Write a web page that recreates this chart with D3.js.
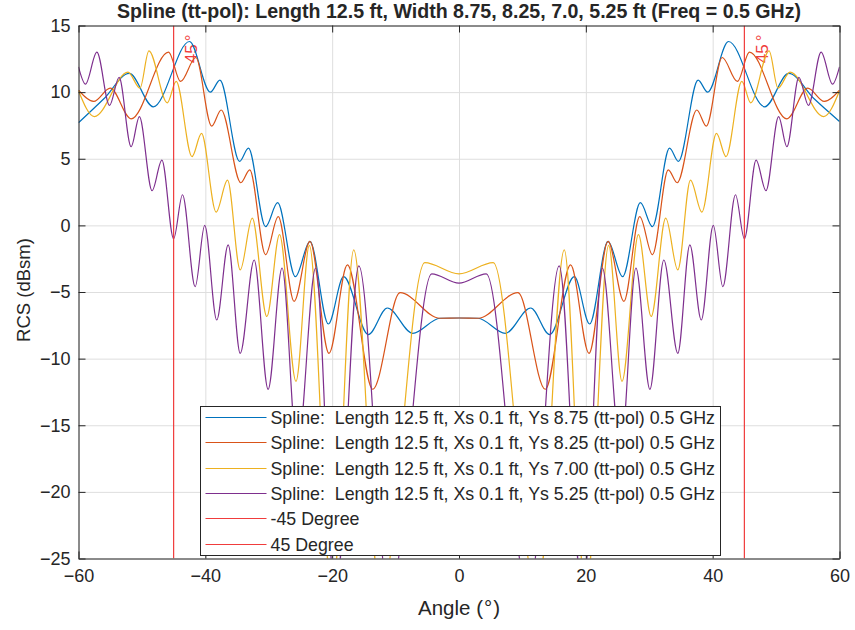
<!DOCTYPE html>
<html>
<head>
<meta charset="utf-8">
<script src="https://cdn.jsdelivr.net/npm/d3@7"></script>
<style>
  body { margin: 0; background: #fff; }
  svg text { font-family: "Liberation Sans", Arial, Helvetica, sans-serif; fill: #262626; }
</style>
</head>
<body>
<svg id="chart" width="855" height="630"></svg>
<script>
// ---- Chart text ----
const titleText = "Spline (tt-pol): Length 12.5 ft, Width 8.75, 8.25, 7.0, 5.25 ft (Freq = 0.5 GHz)";
const xLabelParts = ["Angle (", "\u00B0", ")"];
const yLabel = "RCS (dBsm)";
const xTicks = [-60, -40, -20, 0, 20, 40, 60];
const yTicks = [-25, -20, -15, -10, -5, 0, 5, 10, 15];

// ---- Series: local peaks and nulls of each RCS pattern (angle in deg, RCS in dBsm) ----
const ys875Angle = [-60, -56, -52, -48.2, -42.5, -39.2, -37.7, -34.6, -33.2, -30.5, -28.6, -25.8, -23.5, -20.6, -18.2, -14.3, -11.3, -7.3, -3, 0,
                    3, 7.3, 11.3, 14.3, 18.2, 20.6, 23.5, 25.8, 28.6, 30.5, 33.2, 34.6, 37.7, 39.2, 42.5, 48.2, 52, 56, 60];
const ys875Rcs   = [7.7, 9.5, 11.4, 8.9, 13.8, 10.0, 10.9, 4.8, 5.8, -0.1, 1.7, -3.85, -1.2, -7.4, -3.85, -8.2, -6.2, -8.1, -6.97, -6.95,
                    -6.97, -8.1, -6.2, -8.2, -3.85, -7.4, -1.2, -3.85, 1.7, -0.1, 5.8, 4.8, 10.9, 10.0, 13.8, 8.9, 11.4, 9.5, 7.8];

const ys825Angle = [-60, -57.6, -55, -51.7, -45.8, -43.9, -41.5, -39, -37.5, -34.4, -33, -30.5, -28.5, -26, -23.5, -20.5, -17.6, -13.6, -9.3, -3, 0,
                    3, 9.3, 13.6, 17.6, 20.5, 23.5, 26, 28.5, 30.5, 33, 34.4, 37.5, 39, 41.5, 43.9, 45.8, 51.7, 55, 57.6, 60];
const ys825Rcs   = [10.15, 9.3, 10.3, 8.0, 13.0, 10.8, 12.6, 7.45, 8.66, 3.2, 4.16, -2.2, 0.66, -5.7, -1.2, -9.6, -2.97, -12.3, -5.05, -6.97, -6.95,
                    -6.97, -5.05, -12.3, -2.97, -9.6, -1.2, -5.7, 0.66, -2.2, 4.16, 3.2, 8.66, 7.45, 12.6, 10.8, 13.0, 8.0, 10.3, 9.3, 10.15];

const ys700Angle = [-60, -57.5, -52.2, -50.3, -48.9, -46, -44.6, -42.1, -40.6, -38.3, -36.5, -34.5, -32.6, -30.3, -28.3, -25.7, -23.6, -20, -16.6, -12.4, -5.4, 0,
                    5.4, 12.4, 16.6, 20, 23.6, 25.7, 28.3, 30.3, 32.6, 34.5, 36.5, 38.3, 40.6, 42.1, 44.6, 46, 48.9, 50.3, 52.2, 57.5, 60];
const ys700Rcs   = [10.1, 8.16, 11.5, 10.3, 13.1, 9.2, 10.8, 5.16, 6.9, 1.0, 3.4, -3.34, 0.54, -6.84, -0.7, -11.7, -1.5, -28, -1.84, -28, -2.8, -3.64,
                    -2.8, -28, -1.84, -28, -1.5, -11.7, -0.7, -6.84, 0.54, -3.34, 3.4, 1.0, 6.9, 5.16, 10.8, 9.2, 13.1, 10.3, 11.5, 8.16, 10.1];

const ys525Angle = [-60, -58.9, -57.1, -55.1, -53.6, -51.7, -50.4, -48.4, -46.85, -45, -43.6, -41.6, -40.1, -38.2, -36.4, -34.5, -32.3, -30.1, -27.9, -25.5, -22.6, -19.5, -15.8, -11, -4.3, 0,
                    4.3, 11, 15.8, 19.5, 22.6, 25.5, 27.9, 30.1, 32.3, 34.5, 36.4, 38.2, 40.1, 41.6, 43.6, 45, 46.85, 48.4, 50.4, 51.7, 53.6, 55.1, 57.1, 58.9, 60];
const ys525Rcs   = [11.9, 10.6, 13.0, 9.0, 11.1, 5.9, 8.16, 2.6, 4.9, -1.0, 2.3, -4.6, 0.0, -7.1, -1.47, -9.6, -2.6, -12.3, -3.2, -17, -3.2, -28, -3.04, -28, -3.64, -4.34,
                    -3.64, -28, -3.04, -28, -3.2, -17, -3.2, -12.3, -2.6, -9.6, -1.47, -7.1, 0.0, -4.6, 2.3, -1.0, 4.9, 2.6, 8.16, 5.9, 11.1, 9.0, 13.0, 10.6, 11.9];

const seriesNames = [
  "Spline:  Length 12.5 ft, Xs 0.1 ft, Ys 8.75 (tt-pol) 0.5 GHz",
  "Spline:  Length 12.5 ft, Xs 0.1 ft, Ys 8.25 (tt-pol) 0.5 GHz",
  "Spline:  Length 12.5 ft, Xs 0.1 ft, Ys 7.00 (tt-pol) 0.5 GHz",
  "Spline:  Length 12.5 ft, Xs 0.1 ft, Ys 5.25 (tt-pol) 0.5 GHz"
];
const seriesColors = ["#0072BD", "#D95319", "#EDB120", "#7E2F8E"];

// ---- Reference angle markers ----
const markerAngles = [-45, 45];
const markerNames = ["-45 Degree", "45 Degree"];
const markerLabelParts = ["45", "\u00B0"];
const markerColor = "#f03c3c";

// ---- Layout ----
const svg = d3.select("#chart");
const plot = { left: 78.5, right: 839.5, top: 25.5, bottom: 558.5 };

const x = d3.scaleLinear().domain([-60, 60]).range([plot.left, plot.right]);
const y = d3.scaleLinear().domain([-25, 15]).range([plot.bottom, plot.top]);
const crisp = v => Math.round(v - 0.5) + 0.5;

const series = [
  { angle: ys875Angle, rcs: ys875Rcs },
  { angle: ys825Angle, rcs: ys825Rcs },
  { angle: ys700Angle, rcs: ys700Rcs },
  { angle: ys525Angle, rcs: ys525Rcs }
].map((s, i) => ({
  name: seriesNames[i],
  color: seriesColors[i],
  points: s.angle.map((a, j) => [a, s.rcs[j]])
}));

svg.append("defs").append("clipPath").attr("id", "plot-clip")
  .append("rect")
  .attr("x", plot.left).attr("y", plot.top)
  .attr("width", plot.right - plot.left).attr("height", plot.bottom - plot.top);

// Grid
const grid = svg.append("g").attr("class", "grid");
grid.append("g")
  .attr("transform", `translate(0,${plot.bottom})`)
  .call(d3.axisBottom(x).tickValues(xTicks).tickSize(-(plot.bottom - plot.top)).tickFormat(""))
  .call(g => g.select(".domain").remove());
grid.append("g")
  .attr("transform", `translate(${plot.left},0)`)
  .call(d3.axisLeft(y).tickValues(yTicks).tickSize(-(plot.right - plot.left)).tickFormat(""))
  .call(g => g.select(".domain").remove());
grid.selectAll(".tick line").attr("stroke", "#dedede").attr("stroke-width", 1);

// Marker labels (rotated, drawn under the curves)
const markers = svg.append("g").attr("clip-path", "url(#plot-clip)");
markerAngles.forEach(a => {
  const t = markers.append("text")
    .attr("transform", `translate(${x(a) + 23.5},${plot.top + 9}) rotate(-90)`)
    .attr("text-anchor", "end")
    .style("font-size", "17px")
    .style("fill", markerColor);
  t.append("tspan").style("fill", markerColor).text(markerLabelParts[0]);
  t.append("tspan").attr("dx", 3).style("fill", markerColor).text(markerLabelParts[1]);
});

// Curves
const line = d3.line()
  .x(d => x(d[0]))
  .y(d => y(d[1]))
  .curve(d3.curveMonotoneX);

const curves = svg.append("g").attr("clip-path", "url(#plot-clip)");
series.forEach(s => {
  curves.append("path")
    .attr("d", line(s.points))
    .attr("fill", "none")
    .attr("stroke", s.color)
    .attr("stroke-width", 1.2);
});

// Marker lines
markerAngles.forEach(a => {
  curves.append("line")
    .attr("x1", x(a)).attr("x2", x(a))
    .attr("y1", plot.top).attr("y2", plot.bottom)
    .attr("stroke", markerColor)
    .attr("stroke-width", 1.2);
});

// Axes (ticks pointing inward, box on all sides)
const tickLen = 7;
const axisColor = "#262626";
const tickFont = "18px";
const fmt = d3.format("d");
const axBottom = svg.append("g").attr("transform", `translate(0,${plot.bottom})`)
  .call(d3.axisBottom(x).tickValues(xTicks).tickSizeInner(-tickLen).tickSizeOuter(0).tickPadding(11).tickFormat(fmt));
const axTop = svg.append("g").attr("transform", `translate(0,${plot.top})`)
  .call(d3.axisTop(x).tickValues(xTicks).tickSizeInner(-tickLen).tickSizeOuter(0).tickFormat(""));
const axLeft = svg.append("g").attr("transform", `translate(${plot.left},0)`)
  .call(d3.axisLeft(y).tickValues(yTicks).tickSizeInner(-tickLen).tickSizeOuter(0).tickPadding(8).tickFormat(fmt));
const axRight = svg.append("g").attr("transform", `translate(${plot.right},0)`)
  .call(d3.axisRight(y).tickValues(yTicks).tickSizeInner(-tickLen).tickSizeOuter(0).tickFormat(""));
[axBottom, axTop, axLeft, axRight].forEach(g => {
  g.select(".domain").attr("stroke", axisColor).attr("stroke-width", 1);
  g.selectAll(".tick line").attr("stroke", axisColor).attr("stroke-width", 1);
  g.selectAll(".tick text").style("font-size", tickFont).style("fill", axisColor).attr("font-family", null);
});

// Legend
const legendRows = series.map(s => ({ name: s.name, color: s.color }))
  .concat(markerNames.map(n => ({ name: n, color: markerColor })));
const legend = { x: 200.5, y: 406.5, w: 520, h: 149, rowTop: 417.5, rowStep: 25.3 };
const lg = svg.append("g");
lg.append("rect")
  .attr("x", legend.x).attr("y", legend.y)
  .attr("width", legend.w).attr("height", legend.h)
  .attr("fill", "#fff").attr("stroke", axisColor).attr("stroke-width", 1);
legendRows.forEach((r, i) => {
  const cy = crisp(legend.rowTop + i * legend.rowStep);
  lg.append("line")
    .attr("x1", legend.x + 5).attr("x2", legend.x + 66)
    .attr("y1", cy).attr("y2", cy)
    .attr("stroke", r.color).attr("stroke-width", 1.2);
  lg.append("text")
    .attr("x", legend.x + 70).attr("y", cy)
    .attr("dy", "0.36em")
    .style("font-size", "17.8px")
    .style("white-space", "pre")
    .text(r.name);
});

// Titles
svg.append("text")
  .attr("x", (plot.left + plot.right) / 2).attr("y", 18)
  .attr("text-anchor", "middle")
  .style("font-size", "19.6px").style("font-weight", "bold")
  .text(titleText);
const xl = svg.append("text")
  .attr("x", (plot.left + plot.right) / 2).attr("y", 615)
  .attr("text-anchor", "middle")
  .style("font-size", "20.5px");
xl.append("tspan").text(xLabelParts[0]);
xl.append("tspan").attr("dx", 1).text(xLabelParts[1]);
xl.append("tspan").attr("dx", 1).text(xLabelParts[2]);
svg.append("text")
  .attr("transform", `translate(30,290) rotate(-90)`)
  .attr("text-anchor", "middle")
  .style("font-size", "18.5px")
  .text(yLabel);
</script>
</body>
</html>
